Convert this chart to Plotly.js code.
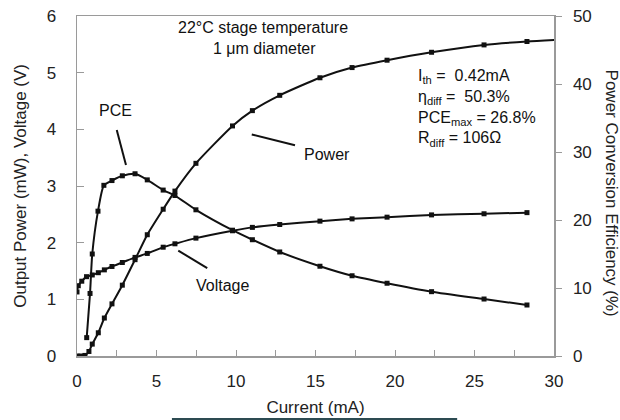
<!DOCTYPE html>
<html>
<head>
<meta charset="utf-8">
<script src="https://cdn.plot.ly/plotly-3.0.1.min.js"></script>
<style>html,body{margin:0;padding:0;background:#fff;}#chart{width:620px;height:420px;}</style>
</head>
<body>
<div id="chart"></div>
<script>
// Current (mA) sample points for each series
const powerCurrent = [0, 0.25, 0.5, 0.75, 0.96, 1.34, 1.72, 2.2, 2.85, 3.65, 4.42, 5.42, 6.16, 7.48, 9.78, 11.03, 12.75, 15.28, 17.3, 19.5, 22.3, 25.6, 28.3, 31];
const powerMW      = [0, 0, 0.01, 0.08, 0.21, 0.41, 0.67, 0.92, 1.25, 1.70, 2.14, 2.59, 2.91, 3.40, 4.06, 4.33, 4.60, 4.91, 5.09, 5.22, 5.36, 5.49, 5.55, 5.59];

const voltCurrent  = [0, 0.08, 0.3, 0.6, 0.96, 1.34, 1.72, 2.2, 2.85, 3.65, 4.42, 5.42, 6.16, 7.48, 9.78, 11.03, 12.75, 15.28, 17.3, 19.5, 22.3, 25.6, 28.3];
const voltageV     = [1.13, 1.24, 1.32, 1.40, 1.43, 1.47, 1.52, 1.58, 1.65, 1.74, 1.81, 1.92, 1.98, 2.08, 2.21, 2.27, 2.32, 2.38, 2.42, 2.45, 2.49, 2.51, 2.53];

const pceCurrent   = [0.61, 0.82, 0.96, 1.32, 1.69, 2.2, 2.85, 3.65, 4.42, 5.42, 6.16, 7.48, 9.78, 11.03, 12.75, 15.28, 17.3, 19.5, 22.3, 25.6, 28.3];
const pcePercent   = [2.7, 9.2, 15.0, 21.3, 25.1, 25.8, 26.5, 26.8, 25.9, 24.4, 23.6, 21.5, 18.5, 17.1, 15.3, 13.2, 11.8, 10.7, 9.46, 8.38, 7.5];

const xTicks  = [0, 5, 10, 15, 20, 25, 30];
const yTicks  = [0, 1, 2, 3, 4, 5, 6];
const y2Ticks = [0, 10, 20, 30, 40, 50];

const FONT = '"Liberation Sans", Arial, sans-serif';
const lineStyle = {color: '#111', width: 2, shape: 'spline', smoothing: 0.6};
const markerStyle = {symbol: 'square', size: 5, color: '#111'};

const traces = [
  {x: powerCurrent, y: powerMW, name: 'Power', mode: 'lines+markers', line: lineStyle, marker: markerStyle, yaxis: 'y'},
  {x: voltCurrent, y: voltageV, name: 'Voltage', mode: 'lines+markers', line: lineStyle, marker: markerStyle, yaxis: 'y'},
  {x: pceCurrent, y: pcePercent, name: 'PCE', mode: 'lines+markers', line: lineStyle, marker: markerStyle, yaxis: 'y2'}
];

const axisGray = '#9a9a9a';
const txt = (text, x, y, extra) => Object.assign({text, x, y, xref: 'x', yref: 'y', showarrow: false,
  font: {family: FONT, size: 16, color: '#111'}}, extra || {});
const seg = (x0, y0, x1, y1) => ({type: 'line', xref: 'x', yref: 'y', x0, y0, x1, y1, line: {color: '#111', width: 2}});

const layout = {
  width: 620, height: 420,
  margin: {l: 77, r: 66, t: 16, b: 64},
  paper_bgcolor: '#fff', plot_bgcolor: '#fff',
  showlegend: false,
  font: {family: FONT, size: 17, color: '#222'},
  xaxis: {
    range: [0, 30], tickvals: xTicks, ticks: 'inside', ticklen: 6, tickcolor: axisGray,
    showline: true, linecolor: axisGray, linewidth: 1.5, mirror: true, showgrid: false, zeroline: false,
    ticklabelstandoff: 9,
    minor: {dtick: 2.5, ticks: 'inside', ticklen: 6, tickcolor: axisGray},
    title: {text: 'Current (mA)', font: {family: FONT, size: 17, color: '#222'}, standoff: 11}
  },
  yaxis: {
    range: [0, 6], tickvals: yTicks, ticks: 'inside', ticklen: 7, tickcolor: axisGray,
    showline: true, linecolor: axisGray, linewidth: 1.5, mirror: true, showgrid: false, zeroline: false,
    ticklabelstandoff: 16
  },
  yaxis2: {
    range: [0, 50], tickvals: y2Ticks, overlaying: 'y', side: 'right', anchor: 'x',
    ticks: 'outside', ticklen: 6, tickcolor: axisGray,
    showline: true, linecolor: axisGray, linewidth: 1.5, showgrid: false, zeroline: false,
    ticklabelstandoff: 8
  },
  annotations: [
    txt('22°C stage temperature', 11.7, 5.79),
    txt('1 μm diameter', 11.82, 5.42),
    txt('I<sub>th</sub> =  0.42mA<br>η<sub>diff</sub> =  50.3%<br>PCE<sub>max</sub> = 26.8%<br>R<sub>diff</sub> = 106Ω',
        21.35, 5.14, {xanchor: 'left', yanchor: 'top', align: 'left'}),
    txt('PCE', 2.39, 4.34),
    txt('Power', 15.72, 3.55),
    txt('Voltage', 9.12, 1.25),
    {text: 'Output Power (mW), Voltage (V)', xref: 'paper', yref: 'paper', x: -0.12, y: 0.5,
     xanchor: 'center', yanchor: 'middle', textangle: -90, showarrow: false,
     font: {family: FONT, size: 17, color: '#222'}},
    {text: 'Power Conversion Efficiency (%)', xref: 'paper', yref: 'paper', x: 1.12, y: 0.48,
     xanchor: 'center', yanchor: 'middle', textangle: 90, showarrow: false,
     font: {family: FONT, size: 17, color: '#222'}}
  ],
  shapes: [
    seg(2.50, 3.99, 3.08, 3.37),
    seg(10.99, 3.91, 13.71, 3.72),
    seg(6.37, 1.86, 8.19, 1.55),
    {type: 'rect', xref: 'paper', yref: 'paper', x0: 0.199, x1: 0.797, y0: -0.19, y1: -0.182,
     fillcolor: '#2d4b52', line: {width: 0}, layer: 'above'}
  ]
};

Plotly.newPlot('chart', traces, layout, {displayModeBar: false, staticPlot: true});
</script>
</body>
</html>
